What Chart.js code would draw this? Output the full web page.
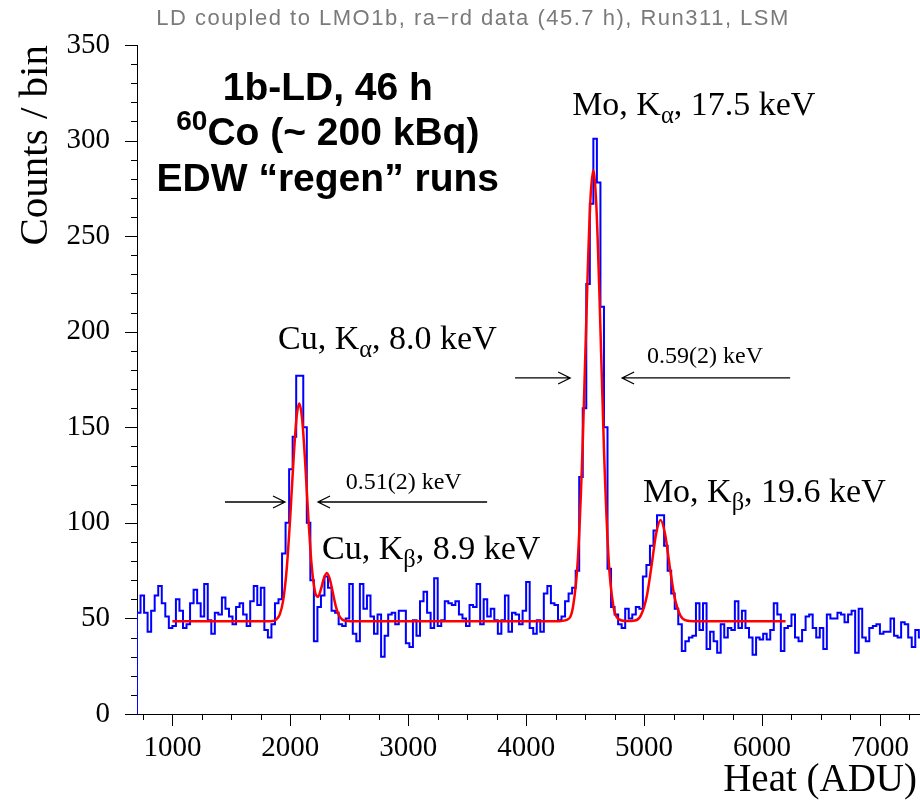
<!DOCTYPE html>
<html>
<head>
<meta charset="utf-8">
<script src="https://cdn.jsdelivr.net/npm/chart.js@4.4.1/dist/chart.umd.min.js"></script>
<style>
  html, body { margin: 0; padding: 0; background: #fff; }
  #wrap { width: 920px; height: 804px; position: relative; }
</style>
</head>
<body>
<div id="wrap"><canvas id="myChart"></canvas></div>
<script>
// histogram: 30 ADU bins starting at 700 ADU
const binStart = 700;
const binWidth = 30;
const counts = [
  53, 62, 53, 43, 54, 62, 67, 58, 51, 45, 46, 60, 54, 45, 47, 58, 65, 58, 51, 68,
  49, 42, 53, 52, 61, 55, 51, 47, 56, 58, 52, 46, 59, 67, 57, 66, 44, 40, 47, 58,
  60, 84, 100, 128, 145, 177, 177, 150, 100, 70, 38, 56, 62, 72, 66, 54, 53, 47, 46, 50,
  68, 42, 38, 68, 55, 62, 51, 42, 52, 30, 41, 52, 53, 47, 54, 54, 37, 35, 49, 41,
  59, 64, 53, 45, 71, 46, 49, 59, 58, 57, 59, 52, 50, 46, 57, 56, 68, 47, 60, 51,
  55, 49, 42, 49, 62, 43, 53, 52, 47, 54, 69, 45, 42, 49, 43, 63, 67, 58, 57, 49,
  51, 59, 63, 66, 75, 124, 160, 225, 267, 301, 278, 213, 150, 76, 56, 52, 47, 45, 55, 50,
  52, 56, 55, 72, 78, 88, 96, 104, 104, 88, 75, 63, 55, 47, 33, 38, 40, 41, 58, 44,
  58, 34, 43, 38, 32, 47, 40, 45, 44, 59, 45, 54, 45, 40, 31, 40, 39, 42, 39, 44,
  58, 52, 33, 45, 46, 52, 40, 38, 44, 51, 52, 45, 40, 45, 34, 52, 50, 50, 53, 52,
  48, 52, 54, 32, 55, 40, 38, 45, 46, 47, 42, 43, 43, 50, 41, 40, 48, 47, 40, 35,
  44, 40
];

// fit curve (flat background + 4 gaussians)
const fitX = [
  1000, 1800, 1850, 1880, 1910, 1940, 1970, 2000, 2030, 2055, 2076, 2100, 2125, 2150,
  2180, 2210, 2235, 2260, 2285, 2310, 2335, 2360, 2385, 2410, 2440, 2480, 2550,
  4250, 4350, 4400, 4440, 4480, 4520, 4545, 4569, 4595, 4620, 4660, 4700, 4740, 4780, 4850,
  4923, 4973, 5023, 5063, 5103, 5140, 5178, 5218, 5258, 5308, 5358, 5420, 6200
];
const fitY = [
  48.5, 48.5, 48.6, 49.4, 52.0, 59.6, 76.2, 103.6, 135.8, 156.3, 162.5, 154.5, 132.8, 105.9,
  78.5, 63.8, 61.3, 65.3, 71.0, 73.8, 70.6, 63.7, 56.6, 51.9, 49.4, 48.6, 48.5,
  48.5, 49.4, 57.0, 82.4, 142.0, 227.0, 269.0, 284.5, 266.5, 222.7, 138.4, 80.4, 56.3, 49.8, 48.6,
  48.9, 51.6, 61.6, 77.4, 94.6, 101.5, 94.2, 77.0, 61.3, 51.5, 48.9, 48.5, 48.5
];

const xTickValues = [1000, 2000, 3000, 4000, 5000, 6000, 7000];
const yTickValues = [0, 50, 100, 150, 200, 250, 300, 350];

const histPoints = [{ x: binStart, y: 0 }];
counts.forEach((c, i) => histPoints.push({ x: binStart + i * binWidth, y: c }));
histPoints.push({ x: binStart + counts.length * binWidth, y: counts[counts.length - 1] });

const fitPoints = fitX.map((x, i) => ({ x: x, y: fitY[i] }));

const SERIF = '"Liberation Serif", "Times New Roman", serif';
const SANS = '"Liberation Sans", Arial, sans-serif';

// text with sub/superscripts, parts = [[text, mode]]
function drawRich(ctx, parts, x, y, size, family, weight, align) {
  const fontFor = m => weight + ' ' + (m ? size * 0.72 : size) + 'px ' + family;
  let w = 0;
  parts.forEach(([t, m]) => { ctx.font = fontFor(m); w += ctx.measureText(t).width; });
  let cx = align === 'center' ? x - w / 2 : x;
  ctx.textAlign = 'left';
  ctx.textBaseline = 'middle';
  parts.forEach(([t, m]) => {
    ctx.font = fontFor(m);
    let dy = 0;
    if (m === 'sub') dy = size * 0.32;
    if (m === 'sup') dy = -size * 0.3;
    ctx.fillText(t, cx, y + dy);
    cx += ctx.measureText(t).width;
  });
}
function drawArrow(ctx, x1, y1, x2, y2) {
  const dir = Math.sign(x2 - x1);
  ctx.beginPath();
  ctx.moveTo(x1, y1);
  ctx.lineTo(x2, y2);
  ctx.moveTo(x2 - dir * 12, y2 - 6);
  ctx.lineTo(x2, y2);
  ctx.lineTo(x2 - dir * 12, y2 + 6);
  ctx.stroke();
}

const rootStyle = {
  id: 'rootStyle',
  afterDraw(chart) {
    const { ctx, chartArea: a } = chart;
    const x = chart.scales.x, y = chart.scales.y;
    const px = v => x.getPixelForValue(v), py = v => y.getPixelForValue(v);
    ctx.save();

    // tick marks (outside the frame)
    ctx.strokeStyle = '#000';
    ctx.lineWidth = 1;
    ctx.beginPath();
    for (let v = 750; v <= x.max; v += 250) {
      const tx = Math.round(px(v)) + 0.5;
      const len = v % 1000 === 0 ? 12 : 6;
      ctx.moveTo(tx, a.bottom);
      ctx.lineTo(tx, a.bottom + len);
    }
    for (let v = 0; v <= y.max; v += 10) {
      const ty = Math.round(py(v)) + 0.5;
      const len = v % 50 === 0 ? 12 : 6;
      ctx.moveTo(a.left, ty);
      ctx.lineTo(a.left - len, ty);
    }
    ctx.stroke();

    // axis titles
    ctx.fillStyle = '#000';
    ctx.textBaseline = 'middle';
    ctx.textAlign = 'right';
    ctx.font = '39px ' + SERIF;
    ctx.fillText('Heat (ADU)', 917, 781);
    ctx.save();
    ctx.translate(36, a.top);
    ctx.rotate(-Math.PI / 2);
    ctx.font = '41px ' + SERIF;
    ctx.textAlign = 'right';
    ctx.fillText('Counts / bin', 0, 0);
    ctx.restore();

    // histogram title
    ctx.fillStyle = '#7a7a7a';
    ctx.font = '22px ' + SANS;
    ctx.letterSpacing = '1.5px';
    ctx.textAlign = 'center';
    ctx.fillText('LD coupled to LMO1b, ra\u2212rd data (45.7 h), Run311, LSM', 473, 19);
    ctx.letterSpacing = '0px';

    // bold run info
    ctx.fillStyle = '#000';
    const cx = px(2318);
    drawRich(ctx, [['1b-LD, 46 h', '']], cx, py(327), 39, SANS, 'bold', 'center');
    drawRich(ctx, [['60', 'sup'], ['Co (~ 200 kBq)', '']], cx, py(303.5), 39, SANS, 'bold', 'center');
    drawRich(ctx, [['EDW \u201cregen\u201d runs', '']], cx, py(279), 39, SANS, 'bold', 'center');

    // line labels
    drawRich(ctx, [['Mo, K', ''], ['\u03b1', 'sub'], [', 17.5 keV', '']], px(4390), py(318), 34, SERIF, 'normal');
    drawRich(ctx, [['Cu, K', ''], ['\u03b1', 'sub'], [', 8.0 keV', '']], px(1896), py(195.7), 34, SERIF, 'normal');
    drawRich(ctx, [['Cu, K', ''], ['\u03b2', 'sub'], [', 8.9 keV', '']], px(2269), py(85.8), 34, SERIF, 'normal');
    drawRich(ctx, [['Mo, K', ''], ['\u03b2', 'sub'], [', 19.6 keV', '']], px(4990), py(115.6), 34, SERIF, 'normal');
    drawRich(ctx, [['0.59(2) keV', '']], px(5025), py(186.8), 24, SERIF, 'normal');
    drawRich(ctx, [['0.51(2) keV', '']], px(2470), py(120.9), 24, SERIF, 'normal');

    // FWHM arrows
    ctx.strokeStyle = '#000';
    ctx.lineWidth = 1.3;
    drawArrow(ctx, px(3906), py(175.8), px(4373), py(175.8));
    drawArrow(ctx, px(6239), py(175.8), px(4814), py(175.8));
    drawArrow(ctx, px(1446), py(110.9), px(1955), py(110.9));
    drawArrow(ctx, px(3669), py(110.9), px(2235), py(110.9));

    ctx.restore();
  }
};

new Chart(document.getElementById('myChart'), {
  type: 'line',
  data: {
    datasets: [
      {
        label: 'fit',
        data: fitPoints,
        borderColor: '#ff0000',
        borderWidth: 2.5,
        pointRadius: 0,
        cubicInterpolationMode: 'monotone',
        fill: false,
        order: 0
      },
      {
        label: 'data',
        data: histPoints,
        borderColor: '#0000ff',
        borderWidth: 2,
        pointRadius: 0,
        stepped: 'before',
        fill: false,
        order: 1
      }
    ]
  },
  options: {
    responsive: true,
    maintainAspectRatio: false,
    animation: false,
    devicePixelRatio: 1,
    layout: { padding: { top: 45, left: 0, right: 0, bottom: 0 } },
    plugins: {
      legend: { display: false },
      tooltip: { enabled: false }
    },
    scales: {
      x: {
        type: 'linear',
        min: 700,
        max: 7340,
        afterBuildTicks: s => { s.ticks = xTickValues.map(v => ({ value: v })); },
        afterFit: s => { s.height = 90; },
        ticks: {
          color: '#000',
          font: { family: SERIF, size: 29 },
          padding: 0,
          maxRotation: 0,
          callback: v => String(v)
        },
        grid: { display: false, drawTicks: true, tickLength: 17 },
        border: { display: true, color: '#000', width: 1 }
      },
      y: {
        type: 'linear',
        min: 0,
        max: 350,
        afterBuildTicks: s => { s.ticks = yTickValues.map(v => ({ value: v })); },
        afterFit: s => { s.width = 137; },
        ticks: {
          color: '#000',
          font: { family: SERIF, size: 29 },
          padding: 0,
          callback: v => String(v)
        },
        grid: { display: false, drawTicks: true, tickLength: 27 },
        border: { display: true, color: '#000', width: 1 }
      }
    }
  },
  plugins: [rootStyle]
});
</script>
</body>
</html>
